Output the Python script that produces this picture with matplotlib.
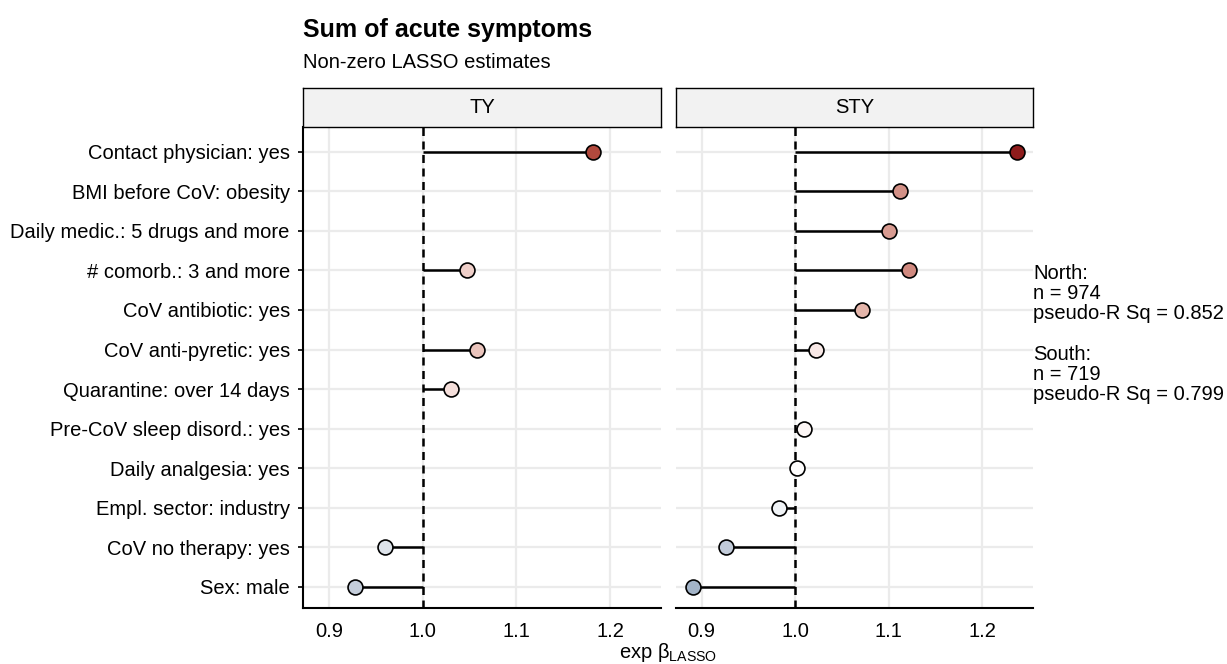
import numpy as np
import matplotlib
matplotlib.use("Agg")
import matplotlib.pyplot as plt
from matplotlib.colors import LinearSegmentedColormap, Normalize

plt.rcParams['font.family'] = ['Liberation Sans', 'DejaVu Sans']
plt.rcParams['mathtext.fontset'] = 'custom'
plt.rcParams['mathtext.rm'] = 'Liberation Sans'
plt.rcParams['mathtext.it'] = 'Liberation Sans:italic'

# ---- data ----
categories = [
    "Contact physician: yes",
    "BMI before CoV: obesity",
    "Daily medic.: 5 drugs and more",
    "# comorb.: 3 and more",
    "CoV antibiotic: yes",
    "CoV anti-pyretic: yes",
    "Quarantine: over 14 days",
    "Pre-CoV sleep disord.: yes",
    "Daily analgesia: yes",
    "Empl. sector: industry",
    "CoV no therapy: yes",
    "Sex: male",
]
panels = ["TY", "STY"]
ty_values = [1.182, None, None, 1.047, None, 1.058, 1.030, None, None, None, 0.960, 0.928]
sty_values = [1.237, 1.112, 1.100, 1.121, 1.071, 1.022, None, 1.009, 1.0015, 0.983, 0.926, 0.891]
x_ticks = [0.9, 1.0, 1.1, 1.2]
x_tick_labels = ["0.9", "1.0", "1.1", "1.2"]
title = "Sum of acute symptoms"
subtitle = "Non-zero LASSO estimates"
side_text = "North:\nn = 974\npseudo-R Sq = 0.852\n\nSouth:\nn = 719\npseudo-R Sq = 0.799"

# ---- colour scale (gradient2 around 1, Lab-like interpolation) ----
all_vals = [v for v in ty_values + sty_values if v is not None]
half = max(abs(max(all_vals) - 1), abs(min(all_vals) - 1))
cmap = LinearSegmentedColormap.from_list("g2", [
    (0.0, "#3C5F8A"), (0.27, "#A3B4C8"), (0.35, "#C4CDDA"), (0.416, "#DDE3EA"),
    (0.5, "#FFFFFF"), (0.546, "#F8E8E5"), (0.62, "#EBC6BE"), (0.65, "#E4B5AA"),
    (0.755, "#D08A80"), (0.884, "#B34A3E"), (1.0, "#8E1C1C")])
norm = Normalize(vmin=1 - half, vmax=1 + half)

fig = plt.figure(figsize=(12.27, 6.64), dpi=100)
W, H = 1227, 664

def fx(px):
    return px / W

def fy(py):
    return 1 - py / H

FS = 14.5
ax_bottom = fy(608)
ax_top = fy(127)
panel_px = [(303, 661), (676, 1033)]
n = len(categories)
ypos = np.arange(n)[::-1]  # first category at top

grid_c = "#EBEBEB"
for i, (name, vals) in enumerate(zip(panels, [ty_values, sty_values])):
    l, r = panel_px[i]
    ax = fig.add_axes([fx(l), ax_bottom, fx(r) - fx(l), ax_top - ax_bottom])
    ax.set_xlim(0.8725, 1.254)
    ax.set_ylim(-0.54, n - 1 + 0.63)
    for xt in x_ticks:
        ax.axvline(xt, color=grid_c, lw=1.6, zorder=0)
    for yp in ypos:
        ax.axhline(yp, color=grid_c, lw=1.6, zorder=0)
    ax.axvline(1.0, color="black", lw=1.8, ls=(0, (3.2, 2.2)), zorder=2)
    for yp, v in zip(ypos, vals):
        if v is None:
            continue
        ax.plot([1.0, v], [yp, yp], color="black", lw=1.8, zorder=3, solid_capstyle="butt")
        ax.scatter([v], [yp], s=115, c=[cmap(norm(v))], edgecolors="black",
                   linewidths=1.2, zorder=4)
    ax.set_xticks(x_ticks)
    ax.set_xticklabels(x_tick_labels)
    ax.tick_params(axis="x", length=0, labelsize=FS, pad=10, colors="black")
    for s in ["top", "right"]:
        ax.spines[s].set_visible(False)
    ax.spines["bottom"].set_linewidth(1.5)
    ax.spines["left"].set_linewidth(1.5)
    ax.set_yticks(ypos)
    if i == 0:
        ax.set_yticklabels(categories)
        ax.tick_params(axis="y", length=3.5, width=1.2, labelsize=FS, pad=6, colors="black")
    else:
        ax.spines["left"].set_visible(False)
        ax.tick_params(axis="y", length=0, labelleft=False)
    ax.set_facecolor("white")
    # strip
    sax = fig.add_axes([fx(l), fy(127), fx(r) - fx(l), fy(88) - fy(127)])
    sax.set_facecolor("#F2F2F2")
    sax.set_xticks([])
    sax.set_yticks([])
    for s in sax.spines.values():
        s.set_linewidth(1.0)
        s.set_color("black")
    sax.text(0.5, 0.5, name, ha="center", va="center", fontsize=FS, transform=sax.transAxes)

fig.text(fx(303), fy(30), title, fontsize=18, fontweight="bold", ha="left", va="center")
fig.text(fx(303), fy(62), subtitle, fontsize=FS, ha="left", va="center")
fig.text(fx(668), fy(653), r"exp $\mathregular{\beta_{LASSO}}$", fontsize=FS, ha="center", va="center")
fig.text(fx(1033), fy(334), side_text, fontsize=FS, ha="left", va="center", linespacing=1.08)

fig.savefig("out.png", dpi=100)
